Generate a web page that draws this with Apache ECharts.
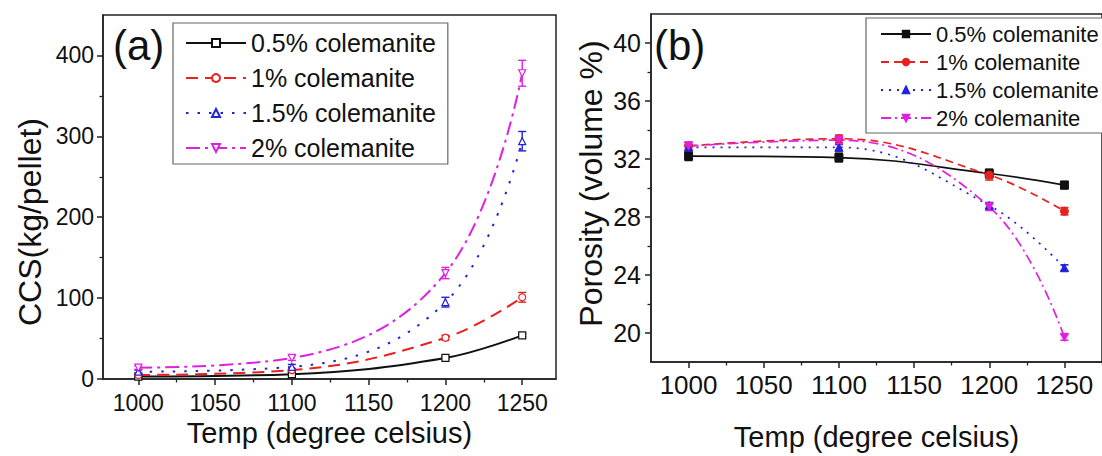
<!DOCTYPE html>
<html>
<head>
<meta charset="utf-8">
<script src="https://cdn.jsdelivr.net/npm/echarts@6/dist/echarts.min.js"></script>
<style>
html,body{margin:0;padding:0;background:#fff;}
#c{width:1102px;height:456px;}
</style>
</head>
<body>
<div id="c"></div>
<script>
// ---- data ----
const temps = [1000, 1100, 1200, 1250];
const seriesNames = ['0.5% colemanite', '1% colemanite', '1.5% colemanite', '2% colemanite'];
// (a) CCS (kg/pellet)
const ccs05 = [3, 6, 26, 54];
const ccs1 = [5, 11, 51, 101];
const ccs15 = [9, 15, 95, 294];
const ccs2 = [14, 26, 131, 378];
const ccsErr05 = [1.5, 1.5, 2, 2];
const ccsErr1 = [1.5, 2, 3, 6];
const ccsErr15 = [2, 3, 6, 12];
const ccsErr2 = [2, 3, 7, 16];
// (b) Porosity (volume %)
const por05 = [32.2, 32.1, 31.0, 30.2];
const por1 = [32.9, 33.4, 30.9, 28.4];
const por15 = [32.8, 32.8, 28.8, 24.5];
const por2 = [32.9, 33.3, 28.7, 19.7];
const porErr05 = [0.3, 0.3, 0.3, 0.25];
const porErr1 = [0.25, 0.25, 0.35, 0.25];
const porErr15 = [0.2, 0.2, 0.2, 0.2];
const porErr2 = [0.25, 0.25, 0.25, 0.2];
// tick labels
const xMajor = [1000, 1050, 1100, 1150, 1200, 1250];
const xMinor = [1025, 1075, 1125, 1175, 1225];
const xMinorB = [1025, 1075, 1125, 1175, 1225, 1275];
const yMajorA = [0, 100, 200, 300, 400];
const yMinorA = [50, 150, 250, 350];
const yMajorB = [20, 24, 28, 32, 36, 40];
const yMinorB = [22, 26, 30, 34, 38];

const FONT = '"Liberation Sans", Arial, sans-serif';
const AX = '#222';
const colors = ['#111111', '#e82020', '#2222d8', '#e020e0'];
const symbols = ['rect', 'circle', 'triangle', 'triangle'];
const rotates = [0, 0, 0, 180];
const dashA = ['solid', [12, 7], [2.5, 9], [14, 5, 3, 5]];
const dashB = ['solid', [8, 5], [2, 6], [10, 4, 2, 4]];
const plain = v => String(v);

function xAxes(gi, min, max, fs, margin, nameGap, minors) {
  return [
    {type: 'value', gridIndex: gi, min: min, max: max, position: 'bottom',
     axisLine: {show: true, onZero: false, lineStyle: {color: AX, width: 1.5}},
     axisTick: {show: true, inside: false, length: 6, customValues: xMajor, lineStyle: {color: AX, width: 1.5}},
     axisLabel: {show: true, customValues: xMajor, formatter: plain, fontSize: fs, margin: margin, color: '#111', fontFamily: FONT},
     splitLine: {show: false},
     name: 'Temp (degree celsius)', nameLocation: 'middle', nameGap: nameGap,
     nameTextStyle: {fontSize: 29, color: '#111', fontFamily: FONT}},
    {type: 'value', gridIndex: gi, min: min, max: max, position: 'bottom',
     axisLine: {show: false, onZero: false},
     axisTick: {show: true, inside: false, length: 3.5, customValues: minors, lineStyle: {color: AX, width: 1.3}},
     axisLabel: {show: false}, splitLine: {show: false}}
  ];
}
function yAxes(gi, min, max, majors, minors, fs, margin, name, nameGap, pad) {
  return [
    {type: 'value', gridIndex: gi, min: min, max: max, position: 'left',
     axisLine: {show: true, onZero: false, lineStyle: {color: AX, width: 1.5}},
     axisTick: {show: true, inside: false, length: 6, customValues: majors, lineStyle: {color: AX, width: 1.5}},
     axisLabel: {show: true, customValues: majors, formatter: plain, fontSize: fs, margin: margin, color: '#111', fontFamily: FONT},
     splitLine: {show: false},
     name: name, nameLocation: 'middle', nameGap: nameGap,
     nameTextStyle: {fontSize: 32, color: '#111', fontFamily: FONT, padding: pad}},
    {type: 'value', gridIndex: gi, min: min, max: max, position: 'left',
     axisLine: {show: false, onZero: false},
     axisTick: {show: true, inside: false, length: 3.5, customValues: minors, lineStyle: {color: AX, width: 1.3}},
     axisLabel: {show: false}, splitLine: {show: false}}
  ];
}

function lineSeries(name, xi, yi, vals, k, dash, lw, filled, symSize) {
  return {
    type: 'line', name: name, xAxisIndex: xi, yAxisIndex: yi,
    data: temps.map((t, i) => [t, vals[i]]),
    smooth: 0.4, symbol: symbols[k], symbolRotate: rotates[k], symbolSize: symSize,
    showAllSymbol: true, z: 4,
    lineStyle: {color: colors[k], width: lw, type: dash},
    itemStyle: filled ? {color: colors[k], borderColor: colors[k], borderWidth: 1}
                      : {color: '#ffffff', borderColor: colors[k], borderWidth: 1.2},
    emphasis: {disabled: true}
  };
}
function errSeries(xi, yi, vals, errs, k, lw) {
  return {
    type: 'custom', xAxisIndex: xi, yAxisIndex: yi, silent: true, z: 3,
    data: temps.map((t, i) => [t, vals[i], errs[i]]),
    renderItem: function (params, api) {
      const x = api.value(0), y = api.value(1), e = api.value(2);
      const top = api.coord([x, y + e]), bot = api.coord([x, y - e]);
      const hw = 4;
      const st = {stroke: colors[k], lineWidth: lw};
      return {type: 'group', children: [
        {type: 'line', shape: {x1: top[0], y1: top[1], x2: bot[0], y2: bot[1]}, style: st},
        {type: 'line', shape: {x1: top[0] - hw, y1: top[1], x2: top[0] + hw, y2: top[1]}, style: st},
        {type: 'line', shape: {x1: bot[0] - hw, y1: bot[1], x2: bot[0] + hw, y2: bot[1]}, style: st}
      ]};
    }
  };
}

const aVals = [ccs05, ccs1, ccs15, ccs2];
const aErrs = [ccsErr05, ccsErr1, ccsErr15, ccsErr2];
const bVals = [por05, por1, por15, por2];
const bErrs = [porErr05, porErr1, porErr15, porErr2];
const bNames = seriesNames.map(n => n + ' (b)');

const series = [];
for (let k = 0; k < 4; k++) series.push(errSeries(0, 0, aVals[k], aErrs[k], k, 1.4));
for (let k = 0; k < 4; k++) series.push(lineSeries(seriesNames[k], 0, 0, aVals[k], k, dashA[k], 2, false, 7));
for (let k = 0; k < 4; k++) series.push(errSeries(2, 2, bVals[k], bErrs[k], k, 1.6));
for (let k = 0; k < 4; k++) series.push(lineSeries(bNames[k], 2, 2, bVals[k], k, dashB[k], 1.7, true, 8));

const chart = echarts.init(document.getElementById('c'), null, {renderer: 'svg'});
chart.setOption({
  backgroundColor: '#ffffff',
  animation: false,
  title: [
    {text: '(a)', left: 113, top: 24, padding: 0, textStyle: {fontSize: 42, fontWeight: 'normal', color: '#111', fontFamily: FONT}},
    {text: '(b)', left: 654, top: 24, padding: 0, textStyle: {fontSize: 42, fontWeight: 'normal', color: '#111', fontFamily: FONT}}
  ],
  grid: [
    {left: 103, top: 15, right: 546, bottom: 77, show: true, borderColor: AX, borderWidth: 1.5, backgroundColor: 'transparent'},
    {left: 651, top: 14, right: -8, bottom: 83, show: true, borderColor: AX, borderWidth: 1.5, backgroundColor: 'transparent'}
  ],
  xAxis: [].concat(
    xAxes(0, 977, 1272, 23, 12, 33, xMinor),
    xAxes(1, 975, 1275, 26, 10, 60, xMinorB)
  ),
  yAxis: [].concat(
    yAxes(0, 0, 450, yMajorA, yMinorA, 23, 9, 'CCS(kg/pellet)', 57, [0, 50, 0, 0]),
    yAxes(1, 18, 42, yMajorB, yMinorB, 25, 10, 'Porosity (volume %)', 44, [0, 0, 0, 9])
  ),
  legend: [
    {data: seriesNames, orient: 'vertical', left: 173, top: 23, itemWidth: 60, itemHeight: 10, itemGap: 5,
     padding: [5, 12, 1, 12], borderColor: '#666', borderWidth: 1.2, backgroundColor: '#fff',
     textStyle: {fontSize: 25, color: '#111', fontFamily: FONT, lineHeight: 30}, selectedMode: false},
    {data: bNames, orient: 'vertical', left: 866, top: 18, itemWidth: 50, itemHeight: 8, itemGap: 4,
     padding: [4, 24, 3, 14], borderColor: '#666', borderWidth: 1.2, backgroundColor: '#fff',
     formatter: n => n.replace(' (b)', ''),
     textStyle: {fontSize: 22, color: '#111', fontFamily: FONT, lineHeight: 24}, selectedMode: false}
  ],
  series: series
});
</script>
</body>
</html>
